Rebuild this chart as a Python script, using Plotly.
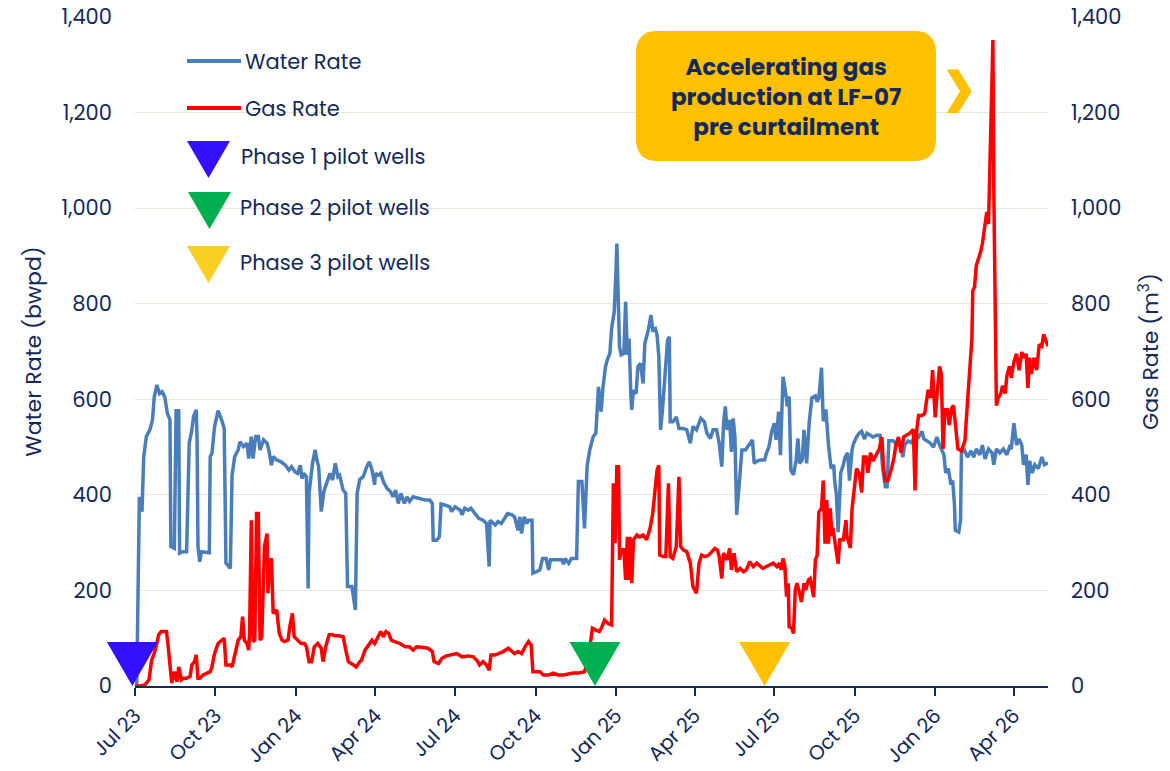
import pandas as pd
import plotly.graph_objects as go

# ---------------- data ----------------
START = pd.Timestamp("2023-07-01")   # day 0 of the day counters below
X_RANGE = ["2023-07-01", "2026-05-10"]
Y_TICKS = [0, 200, 400, 600, 800, 1000, 1200, 1400]

WATER_DAYS = [
    2, 5, 8, 10, 13, 17, 20, 22, 25, 28,
    31, 34, 37, 40, 41, 45, 47, 50, 51, 55,
    59, 62, 65, 67, 70, 71, 72, 74, 76, 85,
    86, 88, 91, 95, 99, 102, 104, 109, 111, 114,
    118, 120, 124, 128, 130, 133, 135, 138, 141, 143,
    147, 151, 153, 156, 158, 162, 167, 172, 176, 179,
    183, 186, 189, 191, 193, 196, 198, 199, 203, 206,
    208, 210, 213, 216, 219, 223, 226, 229, 232, 234,
    238, 241, 243, 248, 252, 254, 257, 261, 265, 268,
    271, 274, 275, 278, 281, 284, 288, 292, 295, 298,
    301, 304, 308, 311, 314, 318, 324, 332, 337, 340,
    341, 345, 348, 350, 354, 360, 362, 366, 372, 374,
    377, 381, 384, 389, 393, 398, 402, 405, 406, 412,
    415, 419, 423, 426, 431, 434, 438, 440, 442, 445,
    448, 450, 454, 455, 459, 463, 466, 470, 473, 475,
    480, 488, 490, 492, 496, 499, 505, 507, 511, 514,
    517, 520, 524, 527, 530, 533, 535, 538, 540, 543,
    545, 548, 550, 551, 554, 556, 559, 561, 563, 565,
    567, 568, 570, 573, 575, 578, 581, 583, 585, 587,
    590, 592, 595, 597, 599, 601, 603, 606, 609, 611,
    612, 615, 619, 622, 627, 631, 635, 638, 642, 647,
    651, 654, 658, 661, 665, 668, 671, 673, 675, 677,
    680, 682, 684, 686, 688, 691, 694, 698, 703, 706,
    708, 711, 715, 720, 722, 725, 728, 731, 733, 736,
    738, 741, 743, 746, 748, 750, 753, 756, 758, 760,
    763, 765, 768, 771, 774, 778, 780, 782, 785, 787,
    790, 793, 796, 799, 800, 802, 804, 807, 810, 812,
    815, 817, 820, 822, 825, 828, 831, 834, 837, 840,
    844, 848, 852, 855, 858, 860, 862, 867, 872, 875,
    878, 880, 884, 888, 892, 896, 900, 902, 905, 909,
    913, 917, 920, 922, 925, 927, 930, 933, 935, 937,
    938, 942, 944, 945, 948, 952, 956, 959, 962, 966,
    969, 972, 976, 980, 982, 985, 989, 993, 997, 1000,
    1002, 1005, 1008, 1011, 1014, 1016, 1019, 1021, 1023, 1026,
    1029, 1033, 1037, 1040, 1044,
]
WATER_RATE = [
    0, 396, 365, 480, 522, 536, 557, 605, 630, 612,
    616, 605, 571, 557, 292, 288, 576, 576, 278, 281,
    281, 508, 536, 564, 578, 515, 292, 260, 281, 279,
    480, 487, 543, 576, 557, 539, 257, 246, 441, 480,
    494, 511, 501, 508, 476, 522, 476, 522, 522, 494,
    515, 508, 494, 462, 480, 473, 469, 462, 452, 459,
    448, 445, 462, 434, 445, 438, 204, 403, 466, 494,
    473, 459, 365, 407, 424, 445, 431, 466, 438, 441,
    410, 403, 208, 208, 159, 403, 432, 438, 459, 469,
    452, 421, 445, 441, 445, 428, 414, 407, 396, 410,
    382, 403, 382, 396, 386, 396, 393, 389, 389, 382,
    305, 305, 312, 381, 379, 375, 365, 375, 368, 358,
    372, 368, 372, 361, 351, 347, 340, 250, 347, 337,
    344, 340, 354, 361, 358, 354, 326, 354, 319, 354,
    340, 347, 347, 236, 239, 243, 267, 267, 243, 264,
    264, 264, 255, 267, 257, 267, 267, 428, 428, 330,
    460, 494, 522, 529, 626, 574, 623, 668, 682, 696,
    748, 783, 870, 926, 710, 693, 696, 804, 693, 727,
    609, 578, 619, 612, 668, 675, 633, 717, 731, 745,
    776, 745, 748, 734, 689, 536, 574, 647, 724, 731,
    553, 553, 563, 539, 539, 536, 508, 543, 536, 560,
    553, 529, 518, 536, 536, 508, 459, 550, 585, 536,
    557, 490, 560, 522, 358, 424, 494, 494, 508, 515,
    466, 470, 473, 473, 487, 501, 532, 550, 515, 574,
    483, 647, 626, 585, 606, 452, 442, 473, 518, 466,
    473, 536, 466, 553, 603, 607, 595, 603, 666, 554,
    579, 504, 455, 463, 430, 401, 322, 446, 463, 479,
    488, 430, 496, 509, 521, 529, 533, 517, 529, 525,
    521, 525, 525, 455, 417, 417, 513, 513, 504, 513,
    479, 504, 513, 509, 525, 521, 533, 517, 513, 509,
    500, 521, 504, 496, 484, 446, 455, 421, 430, 380,
    326, 322, 347, 488, 496, 479, 492, 479, 496, 484,
    504, 475, 496, 488, 463, 496, 488, 496, 484, 500,
    496, 550, 504, 517, 504, 463, 484, 421, 471, 446,
    463, 455, 479, 463, 467,
]

GAS_DAYS = [
    0, 6, 11, 16, 19, 22, 25, 27, 30, 34,
    36, 38, 40, 42, 45, 48, 50, 53, 55, 59,
    63, 65, 68, 70, 72, 74, 78, 82, 86, 88,
    91, 95, 99, 102, 104, 109, 111, 114, 118, 121,
    123, 125, 128, 130, 131, 133, 135, 137, 139, 141,
    143, 145, 148, 151, 152, 154, 156, 158, 162, 165,
    168, 171, 175, 177, 180, 182, 186, 190, 194, 196,
    199, 202, 205, 209, 213, 215, 218, 222, 226, 229,
    233, 238, 241, 244, 250, 253, 257, 259, 263, 267,
    271, 274, 278, 281, 284, 287, 290, 293, 297, 303,
    309, 314, 318, 322, 328, 335, 340, 342, 347, 351,
    356, 362, 368, 374, 381, 387, 392, 394, 398, 402,
    405, 407, 412, 416, 421, 427, 431, 434, 438, 442,
    446, 450, 453, 455, 459, 463, 467, 473, 478, 484,
    490, 495, 501, 507, 514, 518, 520, 523, 527, 531,
    534, 537, 541, 545, 547, 549, 551, 553, 554, 556,
    559, 561, 563, 564, 566, 568, 570, 574, 577, 581,
    585, 589, 592, 595, 597, 599, 600, 604, 607, 610,
    612, 615, 619, 622, 624, 627, 631, 635, 638, 642,
    645, 648, 652, 656, 659, 663, 666, 668, 671, 673,
    677, 680, 682, 685, 688, 692, 696, 699, 703, 707,
    711, 715, 718, 722, 726, 730, 734, 737, 739, 741,
    743, 745, 747, 748, 751, 753, 755, 757, 760, 762,
    765, 767, 770, 772, 774, 776, 778, 780, 782, 785,
    787, 789, 791, 793, 795, 797, 798, 802, 804, 806,
    810, 813, 814, 818, 820, 822, 825, 828, 831, 833,
    836, 838, 841, 844, 848, 851, 854, 856, 858, 861,
    865, 868, 870, 873, 876, 879, 882, 886, 890, 892,
    894, 896, 900, 903, 907, 910, 912, 915, 917, 920,
    922, 924, 926, 929, 931, 934, 936, 939, 941, 945,
    949, 952, 954, 957, 958, 960, 962, 965, 967, 969,
    972, 974, 976, 977, 978, 980, 981, 982, 985, 987,
    990, 992, 995, 997, 1000, 1002, 1005, 1008, 1011, 1014,
    1016, 1019, 1021, 1023, 1025, 1028, 1031, 1034, 1037, 1039,
    1042, 1044,
]
GAS_RATE = [
    0, 0, 2, 13, 54, 68, 89, 107, 114, 114,
    114, 82, 40, 6, 30, 9, 40, 13, 16, 16,
    20, 44, 51, 65, 16, 16, 23, 27, 30, 40,
    68, 89, 96, 100, 44, 44, 40, 68, 96, 103,
    145, 96, 89, 75, 110, 347, 93, 96, 361, 361,
    96, 103, 292, 319, 194, 264, 264, 152, 159, 110,
    96, 93, 96, 124, 152, 103, 96, 89, 89, 82,
    51, 51, 82, 89, 79, 51, 82, 107, 107, 105,
    105, 103, 75, 51, 44, 40, 51, 54, 75, 86,
    96, 89, 103, 114, 103, 114, 110, 96, 93, 89,
    82, 82, 75, 82, 81, 79, 72, 51, 47, 58,
    63, 65, 68, 61, 63, 61, 51, 44, 51, 44,
    33, 65, 65, 68, 72, 79, 72, 68, 72, 68,
    82, 93, 86, 30, 30, 30, 23, 23, 27, 23,
    23, 25, 27, 27, 30, 51, 86, 121, 117, 114,
    124, 138, 131, 128, 424, 299, 459, 459, 264, 285,
    285, 222, 312, 222, 312, 215, 306, 316, 312, 316,
    306, 330, 361, 410, 452, 462, 274, 271, 271, 424,
    271, 267, 292, 438, 292, 285, 281, 257, 208, 194,
    257, 274, 271, 274, 281, 288, 285, 271, 225, 278,
    264, 288, 243, 278, 239, 246, 239, 243, 260, 250,
    257, 250, 246, 250, 253, 257, 250, 257, 243, 267,
    253, 187, 215, 124, 121, 110, 201, 215, 194, 176,
    215, 201, 222, 225, 207, 186, 264, 273, 364, 372,
    430, 298, 389, 298, 372, 314, 331, 281, 256, 306,
    306, 347, 314, 289, 372, 405, 455, 446, 405, 479,
    479, 446, 488, 471, 484, 496, 521, 455, 430, 430,
    455, 479, 504, 521, 488, 521, 525, 529, 537, 409,
    537, 566, 566, 570, 620, 603, 661, 562, 608, 669,
    653, 496, 578, 578, 546, 582, 587, 521, 496, 492,
    513, 595, 645, 727, 827, 835, 880, 897, 909, 926,
    967, 992, 967, 1042, 1091, 1207, 1352, 1042, 587, 603,
    612, 628, 612, 649, 669, 645, 678, 695, 661, 699,
    687, 695, 624, 687, 653, 687, 661, 715, 711, 736,
    719, 711,
]

PHASE_NAMES = ["Phase 1 pilot wells", "Phase 2 pilot wells", "Phase 3 pilot wells"]
PHASE_DATES = ["2023-06-28", "2024-12-08", "2025-06-20"]
PHASE_COLORS = ["#3311ff", "#00b050", "#ffc000"]
PHASE_LEGEND_COLORS = ["#3311ff", "#00b050", "#f8cf22"]

CALLOUT_TEXT = "Accelerating gas<br>production at LF-07<br>pre curtailment"

assert len(WATER_DAYS) == len(WATER_RATE)
assert len(GAS_DAYS) == len(GAS_RATE)

# ---------------- styling ----------------
NAVY = "#14295a"
WATER_COLOR = "#4a7ebb"
GAS_COLOR = "#ff0000"
GRID = "#ebe6dc"
AMBER = "#ffc000"
FONT = "Poppins, Inter, 'Open Sans', sans-serif"

L, T, W, H = 135, 17, 913, 669   # plot-area box in pixels


def fx(px):
    return (px - L) / W


def fy(py):
    return (T + H - py) / H


water_dates = START + pd.to_timedelta(WATER_DAYS, unit="D")
gas_dates = START + pd.to_timedelta(GAS_DAYS, unit="D")

fig = go.Figure()
fig.add_trace(go.Scatter(x=water_dates, y=WATER_RATE, mode="lines", name="Water Rate",
                         line=dict(color=WATER_COLOR, width=3.5), yaxis="y"))
fig.add_trace(go.Scatter(x=gas_dates, y=GAS_RATE, mode="lines", name="Gas Rate",
                         line=dict(color=GAS_COLOR, width=3.5), yaxis="y2"))

shapes = []
annotations = []

# phase markers: triangles with apex on the x axis at the phase date
x0, x1 = pd.Timestamp(X_RANGE[0]), pd.Timestamp(X_RANGE[1])
for date, color in zip(PHASE_DATES, PHASE_COLORS):
    frac = (pd.Timestamp(date) - x0) / (x1 - x0)
    shapes.append(dict(type="path", xref="paper", yref="y", xsizemode="pixel", ysizemode="pixel",
                       xanchor=frac, yanchor=0, path="M-25.5,44 L25.5,44 L0,0 Z",
                       fillcolor=color, line=dict(width=0), layer="above"))

legend_font = dict(family=FONT, size=21, color=NAVY)

# custom legend
legend_lines = [("Water Rate", WATER_COLOR, 61), ("Gas Rate", GAS_COLOR, 108)]
for name, color, py in legend_lines:
    shapes.append(dict(type="line", xref="paper", yref="paper", x0=fx(187), x1=fx(241),
                       y0=fy(py), y1=fy(py), line=dict(color=color, width=4)))
    annotations.append(dict(xref="paper", yref="paper", x=fx(243), y=fy(py), text=name,
                            showarrow=False, xanchor="left", yanchor="middle", font=legend_font))
legend_tri_tops = [141, 192, 246]
legend_tri_left = [187, 188, 187]
legend_text_x = [239, 238, 238]
for name, color, top, left, tx in zip(PHASE_NAMES, PHASE_LEGEND_COLORS, legend_tri_tops,
                                      legend_tri_left, legend_text_x):
    path = "M{},{} L{},{} L{},{} Z".format(fx(left), fy(top), fx(left + 43), fy(top),
                                           fx(left + 21.5), fy(top + 37))
    shapes.append(dict(type="path", xref="paper", yref="paper", path=path,
                       fillcolor=color, line=dict(width=0)))
    annotations.append(dict(xref="paper", yref="paper", x=fx(tx), y=fy(top + 16), text=name,
                            showarrow=False, xanchor="left", yanchor="middle", font=legend_font))

# callout box with rounded corners
bx0, bx1, by0, by1, r = 636, 936, 31, 161, 22
pts = [
    ("M", bx0 + r, by0), ("L", bx1 - r, by0), ("Q", bx1, by0, bx1, by0 + r),
    ("L", bx1, by1 - r), ("Q", bx1, by1, bx1 - r, by1), ("L", bx0 + r, by1),
    ("Q", bx0, by1, bx0, by1 - r), ("L", bx0, by0 + r), ("Q", bx0, by0, bx0 + r, by0),
]
parts = []
for p in pts:
    cmd, coords = p[0], p[1:]
    xy = []
    for i in range(0, len(coords), 2):
        xy.append("{:.5f},{:.5f}".format(fx(coords[i]), fy(coords[i + 1])))
    parts.append(cmd + " ".join(xy))
shapes.append(dict(type="path", xref="paper", yref="paper", path=" ".join(parts) + " Z",
                   fillcolor=AMBER, line=dict(width=0)))
chev = [(946.7, 69.5), (958.3, 69.5), (971.7, 91.3), (958.3, 113), (946.7, 113), (960, 91.3)]
chev_path = "M" + " L".join("{:.5f},{:.5f}".format(fx(a), fy(b)) for a, b in chev) + " Z"
shapes.append(dict(type="path", xref="paper", yref="paper", path=chev_path,
                   fillcolor=AMBER, line=dict(width=0)))
annotations.append(dict(xref="paper", yref="paper", x=fx(786), y=fy(97),
                        text="<b>" + CALLOUT_TEXT + "</b>", showarrow=False,
                        xanchor="center", yanchor="middle", align="center",
                        font=dict(family=FONT, size=23, color=NAVY)))

tick_font = dict(family=FONT, size=21, color=NAVY)
title_font = dict(family=FONT, size=22, color=NAVY)

fig.update_layout(
    width=1170, height=771,
    margin=dict(l=L, r=1170 - L - W, t=T, b=771 - T - H, autoexpand=False),
    paper_bgcolor="white", plot_bgcolor="white",
    showlegend=False,
    font=dict(family=FONT, color=NAVY),
    xaxis=dict(type="date", range=X_RANGE, tick0="2023-07-01", dtick="M3",
               tickformat="%b %y", tickangle=-45, ticks="outside", ticklen=8,
               tickwidth=2, tickcolor=NAVY, showline=True, linecolor=NAVY, linewidth=2,
               showgrid=False, zeroline=False, automargin=False, ticklabeloverflow="allow",
               tickfont=dict(family=FONT, size=20, color=NAVY)),
    yaxis=dict(range=[0, 1400], tickvals=Y_TICKS, tickformat=",", showgrid=True,
               gridcolor=GRID, gridwidth=1, zeroline=False, showline=False, ticks="",
               ticklabelstandoff=22, tickfont=tick_font, automargin=False,
               ticklabeloverflow="allow",
               title=dict(text="Water Rate (bwpd)", font=title_font, standoff=13)),
    yaxis2=dict(range=[0, 1400], tickvals=Y_TICKS, tickformat=",", overlaying="y",
                side="right", showgrid=False, zeroline=False, showline=False, ticks="",
                ticklabelstandoff=22, tickfont=tick_font, automargin=False,
                ticklabeloverflow="allow",
                title=dict(text="Gas Rate (m<sup>3</sup>)", font=title_font, standoff=22)),
    shapes=shapes,
    annotations=annotations,
)

# the page's default 8px body margin would shift the whole figure; remove it
fig.write_html("out.html", config={"displayModeBar": False},
               post_script="document.body.style.margin = '0';")
